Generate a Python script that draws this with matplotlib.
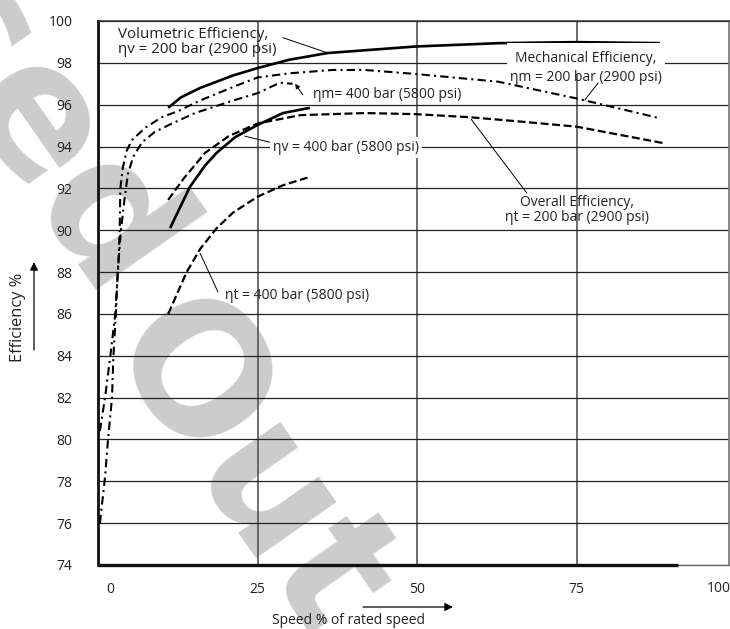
import matplotlib
matplotlib.use('Agg')
import matplotlib.pyplot as plt
from matplotlib.transforms import ScaledTranslation

plt.rcParams['font.family'] = ['Open Sans', 'DejaVu Sans']
plt.rcParams['font.size'] = 10

# speed in % of rated speed / efficiency in %
speed_v200 = [11.0, 13.0, 16.0, 21.2, 25.0, 30.0, 36.0, 41.8, 49.7, 62.7, 75.0, 88.1]
eff_v200 = [95.85, 96.35, 96.8, 97.4, 97.75, 98.15, 98.47, 98.6, 98.78, 98.94, 98.99, 98.94]

speed_m200 = [0.3, 1.1, 1.9, 2.7, 3.2, 3.4, 3.5, 3.9, 4.5, 5.3, 7.4, 10.0, 12.6, 16.0,
              21.2, 25.0, 30.0, 36.8, 41.8, 49.7, 62.7, 75.0, 88.1]
eff_m200 = [80.4, 82.0, 83.9, 86.0, 88.4, 90.0, 92.0, 93.0, 93.8, 94.3, 94.9, 95.4, 95.7, 96.2,
            96.85, 97.3, 97.5, 97.66, 97.66, 97.47, 97.1, 96.3, 95.35]

speed_m400 = [0.3, 1.1, 1.6, 2.2, 2.4, 2.8, 3.1, 3.6, 4.2, 4.7, 5.5, 6.9, 8.9, 11.6, 15.2,
              21.2, 25.0, 28.5, 30.5]
eff_m400 = [76.0, 78.2, 80.1, 82.0, 83.9, 86.0, 88.1, 90.0, 91.6, 92.7, 93.5, 94.2, 94.7, 95.1, 95.6,
            96.2, 96.55, 97.05, 97.0]

speed_v400 = [11.3, 14.4, 16.8, 18.6, 21.5, 25.0, 29.0, 33.2]
eff_v400 = [90.1, 92.07, 93.1, 93.7, 94.45, 95.03, 95.6, 95.85]

speed_t200 = [11.0, 13.5, 16.8, 20.5, 25.0, 31.7, 41.8, 49.7, 58.3, 66.0, 75.0, 88.5]
eff_t200 = [91.45, 92.5, 93.7, 94.5, 95.1, 95.5, 95.6, 95.55, 95.4, 95.2, 94.95, 94.17]

speed_t400 = [11.0, 13.9, 16.0, 18.6, 21.2, 25.0, 29.0, 33.2]
eff_t400 = [86.0, 88.0, 89.1, 90.1, 90.85, 91.6, 92.15, 92.55]

yticks = list(range(74, 101, 2))
xticks = [0, 25, 50, 75, 100]

fig = plt.figure(figsize=(7.3, 6.29), dpi=100)

# faded stamp behind the chart
stamp = dict(color='#cccccc', fontsize=128, fontweight='bold', family='DejaVu Sans',
             rotation=-55, rotation_mode='anchor', zorder=-5)
fig.text(246 / 730, 1 - 469 / 629, 'Out', ha='center', va='center', **stamp)
fig.text(138 / 730, 1 - 287 / 629, 'Phased', ha='right', va='center', **stamp)

ax = fig.add_axes([98 / 730, 64 / 629, 631 / 730, 544 / 629])
ax.set_facecolor('none')
ax.set_xlim(0, 98.9)
ax.set_ylim(74, 100)

ax.set_yticks(yticks)
ax.set_yticklabels([str(t) for t in yticks])
ax.set_xticks(xticks[:-1])
ax.set_xticklabels([str(t) for t in xticks[:-1]])
ax.tick_params(length=0, colors='#222222', labelsize=10)
ax.tick_params(axis='y', pad=18.5)
ax.tick_params(axis='x', pad=12)
ax.xaxis.get_major_ticks()[0].label1.set_transform(
    ax.xaxis.get_major_ticks()[0].label1.get_transform()
    + ScaledTranslation(12 / 100, 0, fig.dpi_scale_trans))
ax.annotate(str(xticks[-1]), xy=(xticks[-1], 74), xycoords='data',
            xytext=(-17, -23), textcoords='offset pixels', ha='center', va='center',
            color='#222222', annotation_clip=False)

ax.grid(axis='y', color='#222222', lw=0.9)
ax.grid(axis='x', color='#555555', lw=1.2)
ax.set_axisbelow(True)

ax.spines['left'].set_linewidth(2.0)
ax.spines['left'].set_color('#111111')
ax.spines['top'].set_linewidth(1.1)
ax.spines['top'].set_color('#333333')
ax.spines['right'].set_linewidth(1.1)
ax.spines['right'].set_color('#666666')
ax.spines['bottom'].set_linewidth(1.0)
ax.spines['bottom'].set_color('#666666')
ax.hlines(74, 0, 90.9, color='#111111', lw=2.4, clip_on=False, zorder=4)

dashdot = (0, (4.0, 2.0, 1.0, 2.0))
dashed = (0, (3.6, 1.6))
ax.plot(speed_v200, eff_v200, color='black', lw=1.9, solid_capstyle='butt', zorder=5)
ax.plot(speed_v400, eff_v400, color='black', lw=1.9, solid_capstyle='butt', zorder=5)
ax.plot(speed_m200, eff_m200, color='black', lw=1.5, ls=dashdot, zorder=5)
ax.plot(speed_m400, eff_m400, color='black', lw=1.5, ls=dashdot, zorder=5)
ax.plot(speed_t200, eff_t200, color='black', lw=1.6, ls=dashed, zorder=5)
ax.plot(speed_t400, eff_t400, color='black', lw=1.6, ls=dashed, zorder=5)

leader = dict(arrowstyle='-', color='black', lw=0.7, shrinkA=0, shrinkB=0)
txt = dict(color='#222222', fontsize=10, zorder=6)

ax.text(3.1, 98.98, 'Volumetric Efficiency,\nηv = 200 bar (2900 psi)', ha='left', va='center',
        linespacing=1.0, color='#222222', fontsize=10.9, zorder=6)
ax.annotate('', xy=(36.05, 98.47), xytext=(29.0, 99.2), arrowprops=leader)

ax.text(76.5, 98.2, 'Mechanical Efficiency,', ha='center', va='center',
        bbox=dict(facecolor='white', edgecolor='none', pad=6), **txt)
ax.text(76.5, 97.3, 'ηm = 200 bar (2900 psi)', ha='center', va='center', **txt)
ax.annotate('', xy=(76.3, 96.23), xytext=(78.4, 97.04), arrowprops=leader)

ax.text(33.7, 96.47, 'ηm= 400 bar (5800 psi)', ha='left', va='center', **txt)
ax.annotate('', xy=(30.9, 97.0), xytext=(32.1, 96.47),
            arrowprops=dict(arrowstyle='-|>', color='black', lw=0.7, mutation_scale=7,
                            shrinkA=0, shrinkB=0))

ax.text(27.4, 93.95, 'ηv = 400 bar (5800 psi)', ha='left', va='center',
        bbox=dict(facecolor='white', edgecolor='none', pad=2), **txt)
ax.annotate('', xy=(23.0, 94.5), xytext=(27.0, 94.2), arrowprops=leader)

ax.text(75.1, 90.97, 'Overall Efficiency,\nηt = 200 bar (2900 psi)', ha='center', va='center',
        linespacing=1.0, **txt)
ax.annotate('', xy=(58.5, 95.3), xytext=(67.2, 91.78), arrowprops=leader)

ax.text(19.9, 86.9, 'ηt = 400 bar (5800 psi)', ha='left', va='center', **txt)
ax.annotate('', xy=(16.0, 88.9), xytext=(18.8, 87.05), arrowprops=leader)

# axis titles with their direction arrows
fig.text(18 / 730, 1 - 317 / 629, 'Efficiency %', rotation=90, ha='center', va='center',
         color='#222222', fontsize=11.8)
fig.text(348 / 730, 1 - 620 / 629, 'Speed % of rated speed', ha='center', va='center',
         color='#222222', fontsize=10)
arrow = dict(arrowstyle='-|>', color='black', lw=0.9, mutation_scale=12, shrinkA=0, shrinkB=0)
ax.annotate('', xy=(34 / 730, 1 - 262 / 629), xycoords='figure fraction',
            xytext=(34 / 730, 1 - 350 / 629), textcoords='figure fraction', arrowprops=arrow)
ax.annotate('', xy=(453 / 730, 1 - 607 / 629), xycoords='figure fraction',
            xytext=(363 / 730, 1 - 607 / 629), textcoords='figure fraction', arrowprops=arrow)

fig.savefig('out.png', dpi=100)
